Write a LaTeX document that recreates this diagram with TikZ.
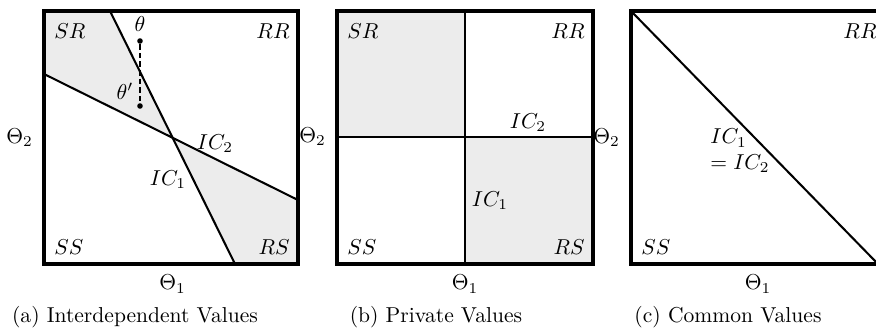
\documentclass[tikz,border=0pt]{standalone}
\usetikzlibrary{positioning,calc}
\tikzset{
  frame/.style={line width=1.4pt},
  icline/.style={line width=0.95pt},
  region/.style={fill=gray!15},
  zone/.style={inner sep=0pt},
  axlbl/.style={inner sep=0pt},
  typept/.style={circle,fill=black,inner sep=0pt,minimum size=2.6pt},
  subcap/.style={inner sep=0pt,anchor=base},
}

\begin{document}
\begin{tikzpicture}[x=0.0163cm,y=-0.0163cm,node distance=5pt]
  \useasboundingbox (0,0) rectangle (876,335);
  \clip (0,0) rectangle (876,335);

  % (a) interdependent values
  \coordinate (a-nw) at (44,11);
  \coordinate (a-se) at (298,264);
  \coordinate (a-ne) at (a-se |- a-nw);
  \coordinate (a-sw) at (a-nw |- a-se);
  \coordinate (a-top) at (110,11);
  \coordinate (a-bot) at (235,264);
  \coordinate (a-lft) at (44,74);
  \coordinate (a-rgt) at (298,200);
  \coordinate (a-x) at (intersection of a-top--a-bot and a-lft--a-rgt);
  \fill[region] (a-nw) -- (a-top) -- (a-x) -- (a-lft) -- cycle;
  \fill[region] (a-x) -- (a-rgt) -- (a-se) -- (a-bot) -- cycle;
  \draw[icline] (a-top) -- (a-bot);
  \draw[icline] (a-lft) -- (a-rgt);
  \draw[frame] (a-nw) rectangle (a-se);

  \node[typept] (th) at (140,41) {};
  \node[typept] (thp) at (140,106) {};
  \draw[line width=0.6pt,dash pattern=on 2.5pt off 1.5pt] (th) -- (thp);
  \node[axlbl,above=2.5pt of th] (thlbl) {$\theta$};
  \node[axlbl] (thplbl) at (125,91) {$\theta'$};
  \node[axlbl] (a-ic1) at (168,180) {$IC_1$};
  \node[axlbl] (a-ic2) at (215,144) {$IC_2$};

  \node[zone,anchor=north west] (a-sr) at ($(a-nw)+(10,12)$) {$SR$};
  \node[zone,anchor=north east] (a-rr) at ($(a-ne)+(-8,12)$) {$RR$};
  \node[zone,anchor=south west] (a-ss) at ($(a-sw)+(10,-9)$) {$SS$};
  \node[zone,anchor=south east] (a-rs) at ($(a-se)+(-8,-9)$) {$RS$};
  \coordinate (a-w) at (a-nw |- a-x);
  \coordinate (a-s) at (a-sw -| a-x);
  \node[axlbl,left=of a-w] (a-th2) {$\Theta_2$};
  \node[axlbl,below=of a-s] (a-th1) {$\Theta_1$};
  \node[subcap] (a-cap) at (135,322) {(a) Interdependent Values};

  % (b) private values
  \coordinate (b-nw) at (337,11);
  \coordinate (b-se) at (593,264);
  \coordinate (b-ne) at (b-se |- b-nw);
  \coordinate (b-sw) at (b-nw |- b-se);
  \coordinate (b-c) at (465,137);
  \fill[region] (b-nw) rectangle (b-c);
  \fill[region] (b-c) rectangle (b-se);
  \draw[icline] (b-c |- b-nw) -- (b-c |- b-se);
  \draw[icline] (b-nw |- b-c) -- (b-se |- b-c);
  \draw[frame] (b-nw) rectangle (b-se);

  \node[axlbl] (b-ic1) at (490,201) {$IC_1$};
  \node[axlbl] (b-ic2) at (528,123) {$IC_2$};

  \node[zone,anchor=north west] (b-sr) at ($(b-nw)+(10,12)$) {$SR$};
  \node[zone,anchor=north east] (b-rr) at ($(b-ne)+(-8,12)$) {$RR$};
  \node[zone,anchor=south west] (b-ss) at ($(b-sw)+(10,-9)$) {$SS$};
  \node[zone,anchor=south east] (b-rs) at ($(b-se)+(-8,-9)$) {$RS$};
  \coordinate (b-w) at (b-nw |- b-c);
  \coordinate (b-s) at (b-sw -| b-c);
  \node[axlbl,left=of b-w] (b-th2) {$\Theta_2$};
  \node[axlbl,below=of b-s] (b-th1) {$\Theta_1$};
  \node[subcap] (b-cap) at (436,322) {(b) Private Values};

  % (c) common values
  \coordinate (c-nw) at (631,11);
  \coordinate (c-se) at (885,264);
  \coordinate (c-ne) at (c-se |- c-nw);
  \coordinate (c-sw) at (c-nw |- c-se);
  \coordinate (c-end) at (878,264);
  \draw[icline] (c-nw) -- (c-end);
  \draw[frame] (c-nw) rectangle (c-se);

  \node[axlbl,align=left] (c-ic) at (740,151) {$IC_1$\\$= IC_2$};

  \node[zone,anchor=north east] (c-rr) at ($(c-ne)+(-8,12)$) {$RR$};
  \node[zone,anchor=south west] (c-ss) at ($(c-sw)+(10,-9)$) {$SS$};
  \coordinate (c-w) at (c-nw |- a-x);
  \coordinate (c-s) at ($(c-sw)!0.5!(c-se)$);
  \node[axlbl,left=of c-w] (c-th2) {$\Theta_2$};
  \node[axlbl,below=of c-s] (c-th1) {$\Theta_1$};
  \node[subcap] (c-cap) at (728,322) {(c) Common Values};
\end{tikzpicture}
\end{document}
